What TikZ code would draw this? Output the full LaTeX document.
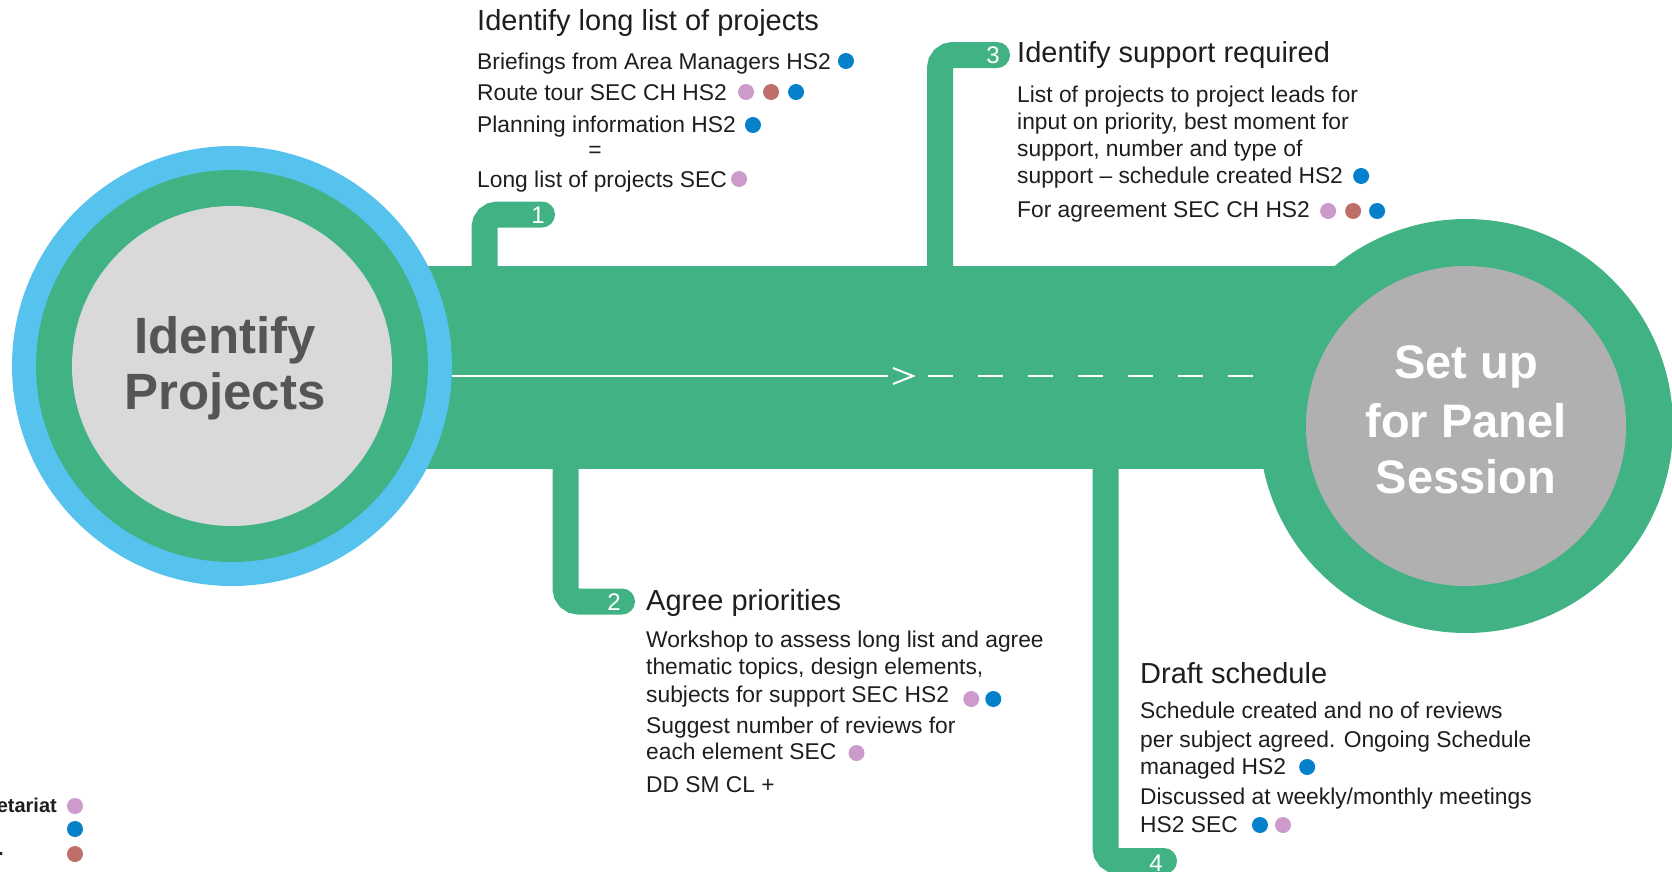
\documentclass[tikz,border=0pt]{standalone}
\usepackage{fontspec}
\setmainfont{Liberation Sans}
\usetikzlibrary{calc}
\definecolor{band}{HTML}{41B284}
\definecolor{ringblue}{HTML}{56C2EE}
\definecolor{lgrey}{HTML}{D9D9D9}
\definecolor{mgrey}{HTML}{B0B0B0}
\definecolor{dgrey}{HTML}{555555}
\definecolor{ink}{HTML}{1E1E1E}
\definecolor{dpink}{HTML}{CC9BCB}
\definecolor{dbrown}{HTML}{BF6F69}
\definecolor{dblue}{HTML}{0580CB}
\begin{document}
\begin{tikzpicture}[x=1pt,y=-1pt,
  branch/.style={draw=band, line width=26pt, rounded corners=13pt, line cap=round},
  body/.style={font=\fontsize{22.8}{26}\selectfont, text=ink, inner sep=0pt, anchor=base west},
  ttl/.style={font=\fontsize{29}{32}\selectfont, text=ink, inner sep=0pt, anchor=base west},
  num/.style={font=\fontsize{24}{26}\selectfont, text=white, inner sep=0pt},
  disc/.style={circle, inner sep=0pt, draw=none},
  bigl/.style={font=\fontsize{51}{56}\bfseries, text=dgrey, inner sep=0pt, anchor=base},
  bigr/.style={font=\fontsize{47}{56}\bfseries, text=white, inner sep=0pt, anchor=base},
  flow/.style={draw=white, line width=2pt},
  leg/.style={font=\fontsize{20}{24}\bfseries, text=ink, inner sep=0pt, anchor=base east}]
\useasboundingbox (0,0) rectangle (1672,871);
\fill[white] (0,0) rectangle (1672,871);

% main band
\fill[band] (232,266) rectangle (1466,469);

% branches
\draw[branch] (484.5,285) -- (484.5,214.5) -- (542,214.5);
\draw[branch] (940,285) -- (940,55) -- (997,55);
\draw[branch] (565.5,450) -- (565.5,601.5) -- (622,601.5);
\draw[branch] (1105.5,450) -- (1105.5,861) -- (1164,861);

% circles
\node[disc, fill=ringblue, minimum size=440pt] (lo) at (232,366) {};
\node[disc, fill=band, minimum size=392pt] (lm) at (232,366) {};
\node[disc, fill=lgrey, minimum size=320pt] (li) at (232,366) {};
\node[disc, fill=band, minimum size=414pt] (ro) at (1466,426) {};
\node[disc, fill=mgrey, minimum size=320pt] (ri) at (1466,426) {};

\node[bigl] (idp1) at (225,353) {Identify};
\node[bigl] (idp2) at (225,409) {Projects};
\node[bigr] (sup1) at (1466,378) {Set up};
\node[bigr] (sup2) at (1466,437) {for Panel};
\node[bigr] (sup3) at (1466,493) {Session};

% flow line
\coordinate (lineS) at (lo.east |- 0,376);
\coordinate (lineM) at (888,376);
\coordinate (chevA) at (893,368);
\coordinate (chevT) at (913,376);
\coordinate (chevB) at (893,384);
\coordinate (dashS) at (928,376);
\coordinate (lineE) at (ro.west |- 0,376);
\draw[flow] (lineS) -- (lineM);
\draw[flow] (chevA) -- (chevT) -- (chevB);
\draw[flow, dash pattern=on 25pt off 25pt] (dashS) -- (lineE);

% badges
\node[num] (n1) at (538,215) {1};
\node[num] (n3) at (993,55) {3};
\node[num] (n2) at (614,602) {2};
\node[num] (n4) at (1156,863) {4};

% block 1
\node[ttl] (t1h) at (477,30) {Identify long list of projects};
\node[body] (t1a) at (477,69) {Briefings from Area Managers HS2};
\node[body] (t1b) at (477,100) {Route tour SEC CH HS2};
\node[body] (t1c) at (477,132) {Planning information HS2};
\node[body, anchor=base] (t1q) at (595,157) {=};
\node[body] (t1d) at (477,187) {Long list of projects SEC};
\fill[dblue] ($(t1a.base east)+(15,-8)$) circle (8pt);
\fill[dpink] ($(t1b.base east)+(19,-8)$) circle (8pt);
\fill[dbrown] ($(t1b.base east)+(44,-8)$) circle (8pt);
\fill[dblue] ($(t1b.base east)+(69,-8)$) circle (8pt);
\fill[dblue] ($(t1c.base east)+(17,-7)$) circle (8pt);
\fill[dpink] ($(t1d.base east)+(12,-8)$) circle (8pt);

% block 3
\node[ttl] (t3h) at (1017,62) {Identify support required};
\node[body] (t3a) at (1017,102) {List of projects to project leads for};
\node[body] (t3b) at (1017,129) {input on priority, best moment for};
\node[body] (t3c) at (1017,156) {support, number and type of};
\node[body] (t3d) at (1017,183) {support – schedule created HS2};
\node[body] (t3e) at (1017,217) {For agreement SEC CH HS2};
\fill[dblue] ($(t3d.base east)+(18,-7)$) circle (8pt);
\fill[dpink] ($(t3e.base east)+(18,-6)$) circle (8pt);
\fill[dbrown] ($(t3e.base east)+(43,-6)$) circle (8pt);
\fill[dblue] ($(t3e.base east)+(67,-6)$) circle (8pt);

% block 2
\node[ttl] (t2h) at (646,610) {Agree priorities};
\node[body] (t2a) at (646,647) {Workshop to assess long list and agree};
\node[body] (t2b) at (646,674) {thematic topics, design elements,};
\node[body] (t2c) at (646,702) {subjects for support SEC HS2};
\node[body] (t2d) at (646,733) {Suggest number of reviews for};
\node[body] (t2e) at (646,759) {each element SEC};
\node[body] (t2f) at (646,792) {DD SM CL +};
\fill[dpink] ($(t2c.base east)+(22,-3)$) circle (8pt);
\fill[dblue] ($(t2c.base east)+(44,-3)$) circle (8pt);
\fill[dpink] ($(t2e.base east)+(20,-6)$) circle (8pt);

% block 4
\node[ttl] (t4h) at (1140,683) {Draft schedule};
\node[body] (t4a) at (1140,718) {Schedule created and no of reviews};
\node[body] (t4b) at (1140,747) {per subject agreed. Ongoing Schedule};
\node[body] (t4c) at (1140,774) {managed HS2};
\node[body] (t4d) at (1140,804) {Discussed at weekly/monthly meetings};
\node[body] (t4e) at (1140,832) {HS2 SEC};
\fill[dblue] ($(t4c.base east)+(21,-7)$) circle (8pt);
\fill[dblue] ($(t4e.base east)+(22,-7)$) circle (8pt);
\fill[dpink] ($(t4e.base east)+(45,-7)$) circle (8pt);

% legend
\node[leg] (lg1) at (57,812) {etariat};
\node[leg] (lg3) at (4,855) {.};
\fill[dpink] (75,806) circle (8pt);
\fill[dblue] (75,829) circle (8pt);
\fill[dbrown] (75,854) circle (8pt);
\end{tikzpicture}
\end{document}
